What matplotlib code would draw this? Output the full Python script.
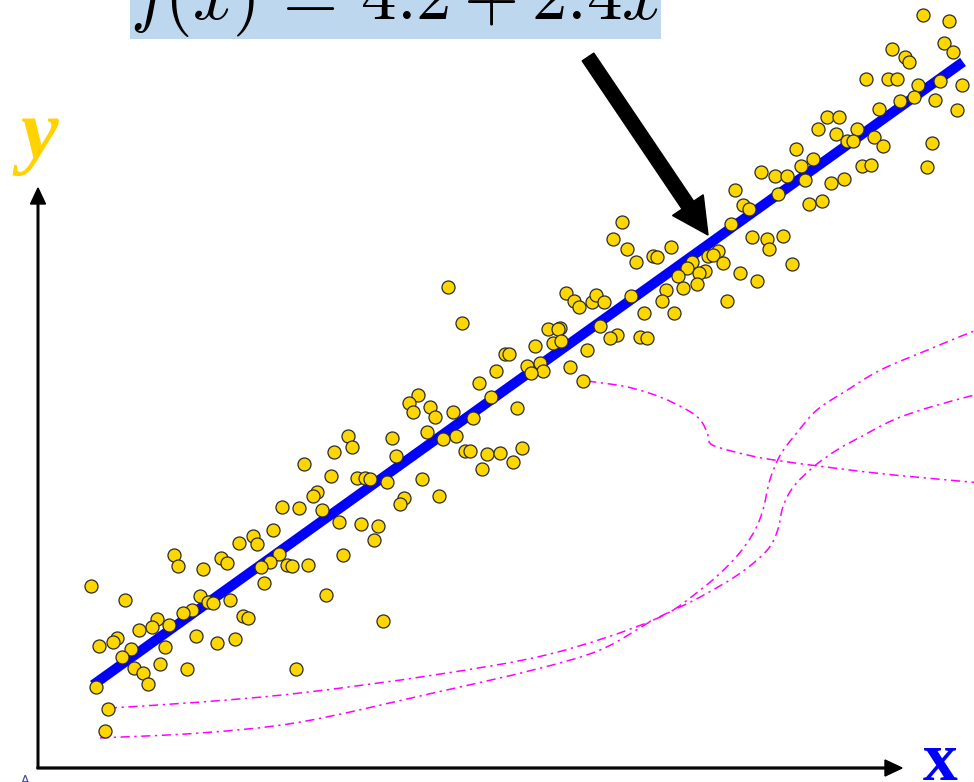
import numpy as np
import matplotlib
matplotlib.use("Agg")
import matplotlib.pyplot as plt
from matplotlib.patches import FancyArrow, PathPatch
from matplotlib.path import Path

plt.rcParams["mathtext.fontset"] = "cm"

# Intercept and slope of the fitted line
intercept = 4.2
slope = 2.4

# Observations (x, y)
x_obs = [
    9.54, 9.84, 9.78, 9.89, 9.18, 9.33, 9.38, 8.89, 9.14, 9.24,
    9.48, 9.74, 9.99, 9.44, 9.28, 9.68, 9.93, 9.03, 8.44, 8.57,
    8.33, 8.78, 8.54, 8.67, 8.74, 8.98, 9.08, 9.64, 8.08, 8.28,
    8.14, 8.84, 8.94, 9.59, 7.68, 7.84, 7.98, 8.18, 8.63, 8.48,
    7.38, 7.87, 7.47, 7.54, 8.23, 8.38, 6.08, 5.98, 6.14, 6.24,
    6.44, 6.48, 6.64, 7.33, 7.57, 7.75, 7.77, 7.93, 8.03, 7.18,
    7.07, 7.13, 6.89, 6.83, 7.24, 7.03, 6.97, 6.72, 6.94, 6.78,
    7.44, 7.63, 7.29, 6.59, 6.54, 6.18, 6.33, 6.68, 5.44, 5.53,
    5.59, 5.74, 5.78, 5.87, 5.83, 5.37, 6.02, 5.94, 6.29, 6.37,
    4.08, 4.24, 5.23, 5.34, 5.29, 5.38, 5.08, 4.74, 4.78, 4.99,
    5.14, 5.17, 5.03, 5.48, 5.68, 5.63, 4.63, 4.44, 4.57, 4.87,
    4.37, 4.17, 4.02, 4.14, 3.74, 3.63, 3.68, 3.87, 3.93, 3.84,
    3.44, 3.48, 4.28, 4.33, 4.53, 4.68, 4.93, 4.83, 4.47, 2.93,
    2.98, 2.77, 2.43, 2.74, 3.03, 3.13, 3.18, 3.38, 3.78, 2.57,
    2.53, 2.17, 2.37, 2.63, 2.83, 3.08, 3.28, 3.23, 3.57, 3.53,
    3.98, 2.87, 2.07, 1.84, 1.89, 1.68, 2.14, 2.03, 1.93, 1.47,
    1.54, 1.26, 2.23, 2.29, 2.47, 0.93, 0.98, -0.02, 0.37, 1.97,
    1.57, 1.23, 1.32, 1.38, 1.14, 1.03, 0.74, 0.68, 0.53, 0.87,
    0.28, 0.23, 0.07, 0.44, 0.33, 0.83, 0.47, 0.57, 0.63, 0.77,
    1.18, 1.43, 1.63, 1.72, 1.78, 1.08, 2.33, 2.68, 3.33, 0.03,
    0.17, 0.14,
]
y_obs = [
    30.01, 29.78, 28.93, 28.58, 28.70, 28.39, 28.20, 27.54, 27.54, 27.54,
    27.31, 27.47, 27.31, 26.85, 26.69, 26.73, 26.35, 26.39, 26.08, 26.08,
    25.62, 25.62, 25.42, 25.15, 25.15, 25.31, 24.96, 25.08, 24.85, 24.46,
    24.19, 24.19, 24.23, 24.15, 23.96, 23.81, 23.81, 23.65, 23.69, 23.54,
    23.27, 23.11, 22.69, 22.53, 22.73, 22.84, 22.03, 21.38, 20.99, 20.49,
    20.72, 20.69, 21.07, 21.96, 21.46, 21.38, 20.99, 21.49, 20.42, 20.92,
    20.72, 20.76, 20.49, 20.26, 20.45, 20.15, 20.07, 19.95, 19.65, 19.49,
    20.07, 19.76, 18.99, 19.41, 18.99, 19.18, 18.53, 18.53, 19.30, 18.99,
    18.76, 18.95, 19.22, 18.95, 18.03, 17.95, 17.68, 17.57, 17.60, 17.57,
    19.53, 18.14, 17.91, 17.91, 17.37, 17.45, 17.26, 16.95, 16.95, 16.49,
    16.60, 16.29, 16.22, 16.45, 17.10, 15.91, 16.29, 15.83, 15.29, 14.87,
    14.48, 13.79, 13.68, 14.71, 15.37, 15.06, 14.71, 14.91, 14.52, 13.94,
    13.71, 13.02, 13.21, 13.21, 13.10, 13.14, 13.33, 12.79, 12.52, 13.79,
    13.37, 13.17, 12.71, 12.25, 12.17, 12.17, 12.13, 12.02, 12.13, 11.63,
    11.48, 11.06, 11.02, 10.94, 10.48, 10.40, 10.32, 9.78, 11.40, 11.17,
    11.48, 9.21, 10.17, 9.94, 9.63, 9.67, 9.24, 8.94, 8.74, 9.09,
    8.90, 8.67, 8.82, 8.78, 8.82, 9.21, 8.78, 8.01, 7.47, 8.13,
    7.47, 7.63, 7.40, 7.36, 7.09, 6.97, 6.74, 6.43, 6.32, 6.51,
    6.01, 5.86, 5.70, 5.59, 5.28, 5.66, 4.85, 4.66, 4.24, 5.01,
    6.09, 5.82, 5.97, 6.86, 6.78, 4.82, 4.82, 7.67, 6.66, 4.12,
    3.27, 2.43,
]

# Dash-dot guide curves (control points, x and y)
curve_a_x = [0.17, 1.23, 2.38, 3.91, 5.25, 6.44, 6.98, 7.36, 7.59, 7.70,
             7.78, 7.90, 8.07, 8.32, 8.67, 9.05, 9.59, 10.13, 10.43]
curve_a_y = [3.31, 3.54, 3.89, 4.58, 5.39, 6.70, 7.86, 9.01, 10.05, 10.94,
             12.10, 13.06, 13.83, 14.79, 15.56, 16.33, 17.10, 17.84, 18.18]
curve_b_x = [0.08, 1.23, 2.38, 3.91, 5.06, 5.83, 6.44, 6.98, 7.44, 7.75,
             7.87, 7.93, 8.05, 8.28, 8.55, 8.82, 9.20, 9.59, 10.13, 10.43]
curve_b_y = [2.16, 2.35, 2.77, 3.89, 4.78, 5.55, 6.70, 7.59, 8.51, 9.40,
             10.17, 11.06, 11.83, 12.60, 13.25, 13.75, 14.41, 14.87, 15.37, 15.64]
curve_c_x = [5.68, 6.14, 6.52, 6.83, 6.98, 7.06, 7.09, 7.21, 7.52, 7.82,
             8.51, 9.20, 10.08, 10.43]
curve_c_y = [15.91, 15.68, 15.29, 14.79, 14.41, 13.91, 13.52, 13.33, 13.06, 12.87,
             12.56, 12.29, 12.02, 11.90]


def smooth_path(xs, ys):
    """Catmull-Rom spline through the points, as cubic Bezier segments."""
    p = np.column_stack([xs, ys]).astype(float)
    p = np.vstack([p[0], p, p[-1]])
    verts = [p[1]]
    codes = [Path.MOVETO]
    for i in range(1, len(p) - 2):
        p0, p1, p2, p3 = p[i - 1], p[i], p[i + 1], p[i + 2]
        c1 = p1 + (p2 - p0) / 6.0
        c2 = p2 - (p3 - p1) / 6.0
        verts += [c1, c2, p2]
        codes += [Path.CURVE4] * 3
    return Path(verts, codes)


fig = plt.figure(figsize=(9.74, 7.82), dpi=100)
ax = fig.add_axes([0, 0, 1, 1])
ax.set_axis_off()
ax.set_xlim(-1.069, 10.126)
ax.set_ylim(0.462, 30.586)

for cx, cy in [(curve_a_x, curve_a_y), (curve_b_x, curve_b_y), (curve_c_x, curve_c_y)]:
    ax.add_patch(PathPatch(smooth_path(cx, cy), fill=False, edgecolor="#ff00ff",
                           linewidth=1.1, linestyle=(0, (6, 3, 1.5, 3)), zorder=1))

xl = np.array([0.0, 10.0])
ax.plot(xl, intercept + slope * xl, color="#0000ff", linewidth=7.2,
        solid_capstyle="butt", zorder=2)

ax.scatter(x_obs, y_obs, s=88, facecolor="#ffd700", edgecolor="#2b2b2b",
           linewidth=0.9, zorder=3)

# Coordinate axes drawn as arrows (inches)
fig.add_artist(FancyArrow(0.38, 0.14, 0, 5.80, width=0.016, head_width=0.15,
                          head_length=0.16, length_includes_head=True,
                          color="black", transform=fig.dpi_scale_trans))
fig.add_artist(FancyArrow(0.37, 0.14, 8.65, 0, width=0.018, head_width=0.16,
                          head_length=0.17, length_includes_head=True,
                          color="black", transform=fig.dpi_scale_trans))

# Pointer to the fitted line
fig.add_artist(FancyArrow(5.88, 7.25, 1.20, -1.78, width=0.14, head_width=0.37,
                          head_length=0.36, length_includes_head=True,
                          color="black", transform=fig.dpi_scale_trans))

fig.text(130 / 974, 763 / 782, r"$f(x)\,=\,4.2+2.4x$", fontsize=51,
         ha="left", va="baseline",
         bbox=dict(boxstyle="square,pad=0.0", facecolor="#bdd7ee", edgecolor="none"))

fig.text(39 / 974, 624 / 782, "y", fontsize=61, family="Liberation Serif",
         style="italic", weight="bold", color="#ffd200", ha="center", va="baseline")
fig.text(940 / 974, 2 / 782, "x", fontsize=50, family="Liberation Serif",
         weight="bold", color="#0000ff", ha="center", va="baseline")
fig.text(25 / 974, 8 / 782, "A", fontsize=9, color="#4a4a9a", ha="center", va="top")

fig.savefig("out.png", dpi=100)
